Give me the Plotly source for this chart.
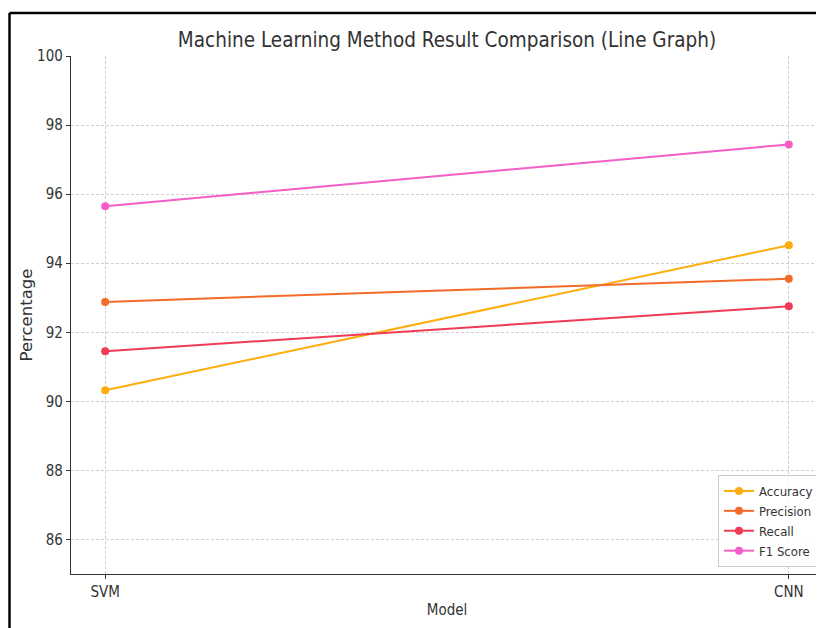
import plotly.graph_objects as go

models = ["SVM", "CNN"]
accuracy = [90.32, 94.52]
precision = [92.88, 93.55]
recall = [91.45, 92.75]
f1_score = [95.65, 97.44]

series = [
    ("Accuracy", accuracy, "#ffad0d"),
    ("Precision", precision, "#f36b2a"),
    ("Recall", recall, "#ef3b53"),
    ("F1 Score", f1_score, "#f45ec6"),
]

# page body has an 8px margin, so the figure is drawn offset by 8px
OFF = 8
W, H = 824 - OFF, 628 - OFF
L, R, T, B = 71 - OFF, 1, 56 - OFF, 628 - 574
pw, ph = W - L - R, H - T - B

fig = go.Figure()
for name, vals, col in series:
    fig.add_trace(go.Scatter(
        x=[0, 1], y=vals, name=name, mode="lines+markers",
        line=dict(color=col, width=2), marker=dict(color=col, size=8),
    ))

font_fam = "DejaVu Sans Condensed, Liberation Sans Narrow, DejaVu Sans"

fig.update_layout(
    width=W, height=H,
    margin=dict(l=L, r=R, t=T, b=B, autoexpand=False),
    paper_bgcolor="white", plot_bgcolor="white",
    title=dict(text="Machine Learning Method Result Comparison (Line Graph)",
               x=(447 - 71) / pw, xref="paper", xanchor="center",
               y=1 - (40 - OFF) / H, yanchor="middle",
               font=dict(family=font_fam, size=20.5, color="#333333")),
    font=dict(family=font_fam, color="#333333", size=14),
    xaxis=dict(
        range=[-0.05, 1.05], tickvals=[0, 1], ticktext=models,
        title=dict(text="Model", font=dict(size=15), standoff=4),
        showgrid=True, gridcolor="#cfcfcf", griddash="3px,2px", gridwidth=1,
        showline=True, linecolor="#333333", linewidth=1.3,
        ticks="outside", ticklen=4, tickcolor="#333333", zeroline=False,
        tickfont=dict(size=15),
    ),
    yaxis=dict(
        range=[85, 100], tickvals=list(range(86, 101, 2)),
        title=dict(text="Percentage", font=dict(family="DejaVu Sans", size=16.5), standoff=0),
        showgrid=True, gridcolor="#cfcfcf", griddash="3px,2px", gridwidth=1,
        showline=True, linecolor="#333333", linewidth=1.3,
        ticks="outside", ticklen=4, tickcolor="#333333", zeroline=False,
        tickfont=dict(size=15),
    ),
    legend=dict(
        x=(819 - 71) / pw, xanchor="right", y=(574 - 567) / ph, yanchor="bottom",
        bgcolor="rgba(255,255,255,0.85)", bordercolor="#cccccc", borderwidth=1,
        font=dict(size=13), itemwidth=30,
    ),
    showlegend=True,
)

# black frame of the screenshot (left and top edges)
x_left = (9.5 - 71) / pw
y_top = (574 - 13) / ph
fig.add_shape(type="line", xref="paper", yref="paper",
              x0=x_left, x1=x_left, y0=y_top, y1=-B / ph - 0.01,
              line=dict(color="black", width=2.5))
fig.add_shape(type="line", xref="paper", yref="paper",
              x0=x_left, x1=(W - L) / pw + 0.01, y0=y_top, y1=y_top,
              line=dict(color="black", width=2.5))

fig.write_html("out.html")
